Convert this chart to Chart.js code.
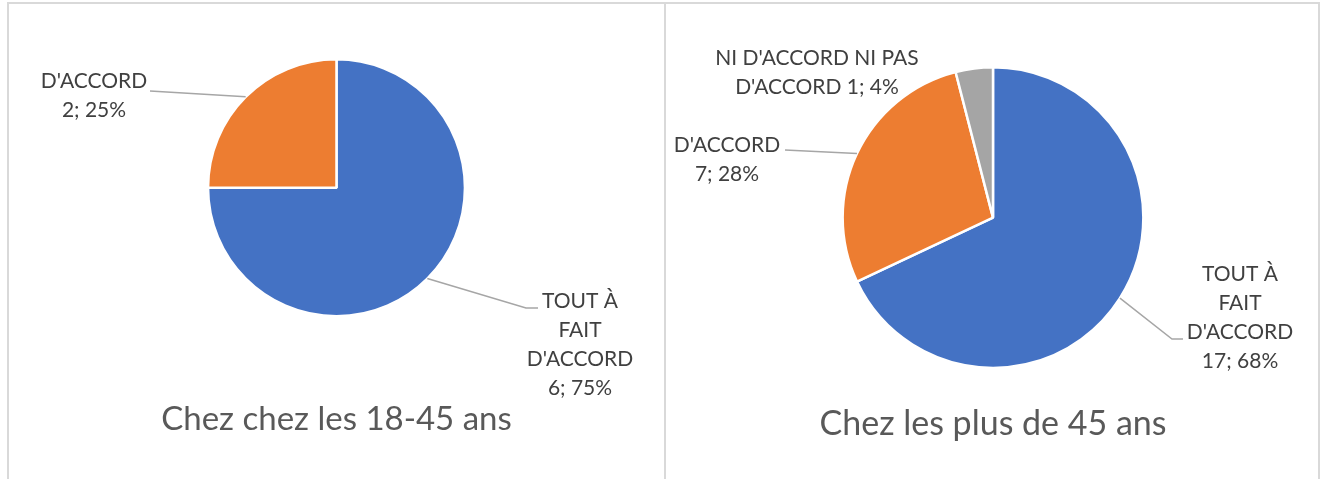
<!DOCTYPE html>
<html>
<head>
<meta charset="utf-8">
<script src="https://cdn.jsdelivr.net/npm/chart.js@4.4.0/dist/chart.umd.min.js"></script>
<style>
    body { margin: 0; background: #fff; width: 1320px; height: 479px; overflow: hidden; }
    #wrap {
        position: absolute; left: 7px; top: 2px; width: 1313px; height: 500px;
        box-sizing: border-box; border: 2px solid #d9d9d9; display: flex;
    }
    #leftBox { width: 655px; height: 475px; border-right: 2px solid #d9d9d9; position: relative; }
    #rightBox { width: 650px; height: 475px; position: relative; }
</style>
</head>
<body>
<div id="wrap">
    <div id="leftBox"><canvas id="YoungChart"></canvas></div>
    <div id="rightBox"><canvas id="OldChart"></canvas></div>
</div>
<script>
// data
var youngLabels = ["TOUT \u00C0 FAIT D'ACCORD", "D'ACCORD"];
var youngValues = [6, 2];
var youngColors = ["#4472C4", "#ED7D31"];

var oldLabels = ["TOUT \u00C0 FAIT D'ACCORD", "D'ACCORD", "NI D'ACCORD NI PAS D'ACCORD"];
var oldValues = [17, 7, 1];
var oldColors = ["#4472C4", "#ED7D31", "#A5A5A5"];

var FONT = "Lato, 'Open Sans', sans-serif";

// draws Excel-like data labels "category value; pct%" with leader lines
var pieLabels = {
    id: 'pieLabels',
    afterDatasetsDraw: function (chart, args, opts) {
        var ctx = chart.ctx;
        var meta = chart.getDatasetMeta(0);
        var data = chart.data.datasets[0].data;
        var total = data.reduce(function (a, b) { return a + b; }, 0);
        ctx.save();
        ctx.font = opts.size + 'px ' + FONT;
        ctx.textAlign = 'center';
        ctx.textBaseline = 'middle';
        meta.data.forEach(function (arc, i) {
            var pos = opts.items[i];
            if (!pos) return;
            var p = arc.getProps(['x', 'y', 'startAngle', 'endAngle', 'outerRadius'], true);
            var mid = (p.startAngle + p.endAngle) / 2;
            var ax = p.x + Math.cos(mid) * p.outerRadius;
            var ay = p.y + Math.sin(mid) * p.outerRadius;

            if (pos.line) {
                ctx.strokeStyle = '#A6A6A6';
                ctx.lineWidth = 1.5;
                ctx.beginPath();
                ctx.moveTo(ax, ay);
                pos.line.forEach(function (pt) { ctx.lineTo(pt[0], pt[1]); });
                ctx.stroke();
            }

            var text = chart.data.labels[i] + ' ' + data[i] + '; ' + Math.round(data[i] / total * 100) + '%';
            var words = text.split(' ');
            var lines = [], cur = '';
            words.forEach(function (w) {
                var test = cur ? cur + ' ' + w : w;
                if (cur && ctx.measureText(test).width > pos.maxW) {
                    lines.push(cur);
                    cur = w;
                } else {
                    cur = test;
                }
            });
            lines.push(cur);

            ctx.fillStyle = '#404040';
            lines.forEach(function (l, k) {
                ctx.fillText(l, pos.x, pos.y + k * 29);
            });
        });
        ctx.restore();
    }
};

function MakePie(id, labels, values, colors, title, titleSize, pad, titlePad, labelItems) {
    return new Chart(document.getElementById(id), {
        type: 'pie',
        data: {
            labels: labels,
            datasets: [{
                data: values,
                backgroundColor: colors,
                borderColor: '#ffffff',
                borderWidth: 2.5
            }]
        },
        options: {
            responsive: true,
            maintainAspectRatio: false,
            animation: false,
            layout: { padding: pad },
            plugins: {
                legend: { display: false },
                tooltip: { enabled: false },
                title: {
                    display: true,
                    position: 'bottom',
                    text: title,
                    color: '#595959',
                    font: { family: FONT, size: titleSize, weight: 'normal' },
                    padding: titlePad
                },
                pieLabels: { size: 21, items: labelItems }
            }
        },
        plugins: [pieLabels]
    });
}

MakePie('YoungChart', youngLabels, youngValues, youngColors, 'Chez chez les 18-45 ans', 33,
    { top: 54, bottom: 0 }, { top: 82, bottom: 40 },
    [
        { x: 571, y: 297, maxW: 112, line: [[517, 304], [529, 304]] },
        { x: 85, y: 77, maxW: 112, line: [[141, 87]] }
    ]);

MakePie('OldChart', oldLabels, oldValues, oldColors, 'Chez les plus de 45 ans', 34,
    { top: 62, bottom: 0, left: 4 }, { top: 34, bottom: 35 },
    [
        { x: 574, y: 270, maxW: 112, line: [[506, 335], [517, 335]] },
        { x: 61, y: 141, maxW: 112, line: [[119, 146]] },
        { x: 151, y: 54, maxW: 215 }
    ]);
</script>
</body>
</html>
